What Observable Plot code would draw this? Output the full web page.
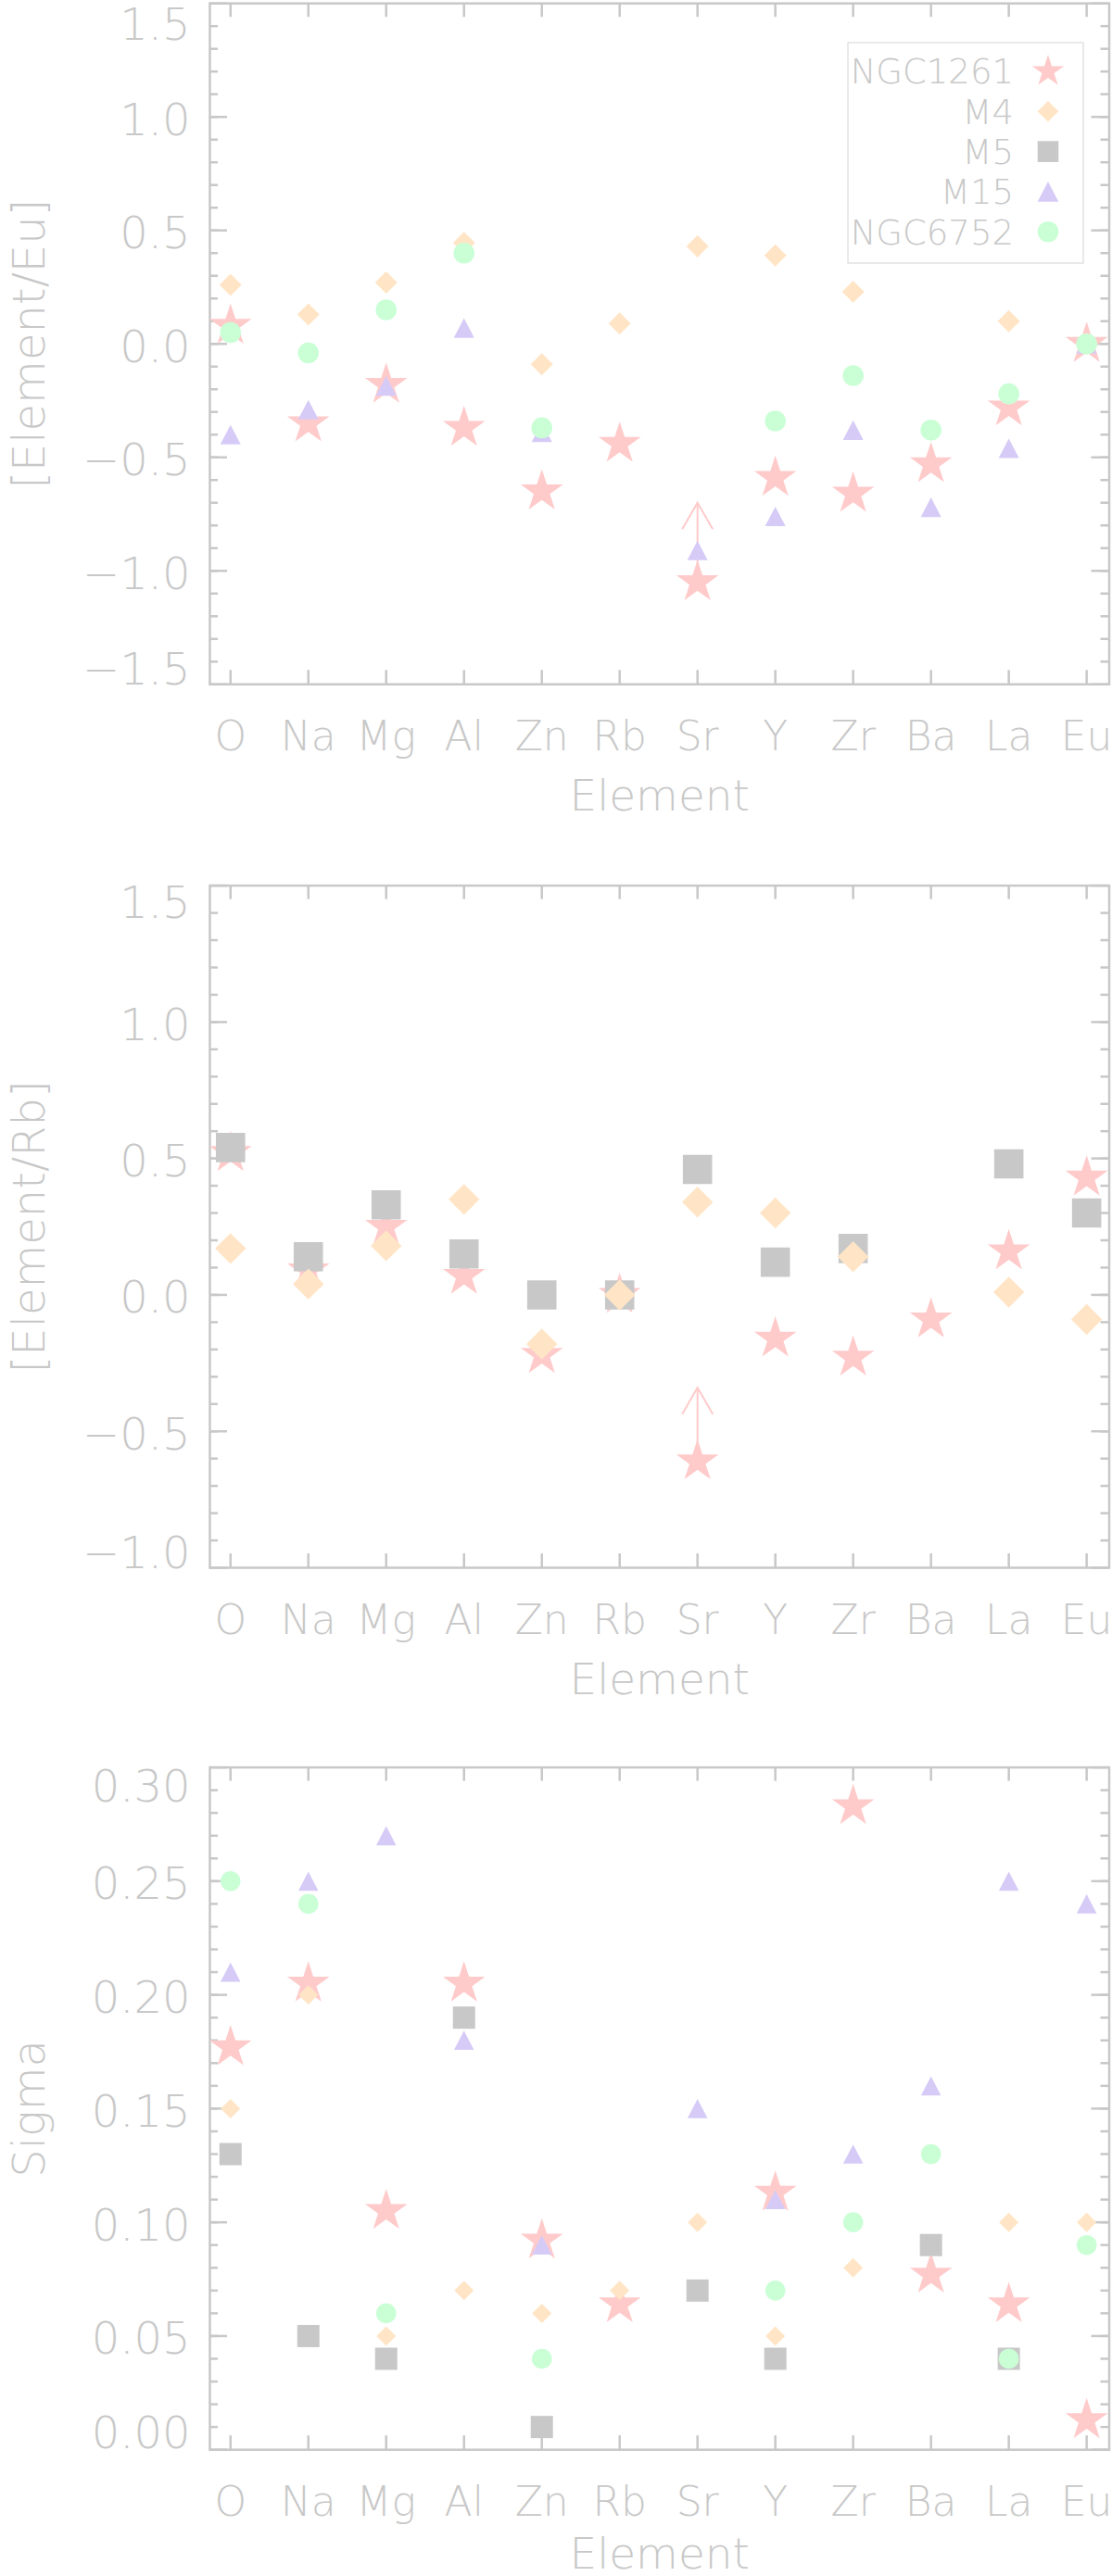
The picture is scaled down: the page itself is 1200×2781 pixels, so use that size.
<!DOCTYPE html>
<html>
<head>
<meta charset="utf-8">
<script src="https://cdn.jsdelivr.net/npm/d3@7"></script>
<script src="https://cdn.jsdelivr.net/npm/@observablehq/plot@0.6"></script>
<style>
  html, body { margin: 0; padding: 0; background: #fff; }
  #wrap { position: relative; width: 1200px; height: 2781px; overflow: hidden; }
  .pan { position: absolute; left: 0; width: 1200px; }
  svg { display: block; }
</style>
</head>
<body>
<div id="wrap"></div>
<script>
// ---------------- data ----------------
const elements = ["O", "Na", "Mg", "Al", "Zn", "Rb", "Sr", "Y", "Zr", "Ba", "La", "Eu"];
const seriesNames = ["NGC1261", "M4", "M5", "M15", "NGC6752"];
const seriesColors = ["#ffcaca", "#ffe5c6", "#c8c8c8", "#d6cbf7", "#caffd6"];

// Panel 1: [Element/Eu]
const eu_NGC1261 = [0.08, -0.35, -0.18, -0.37, -0.65, -0.44, -1.05, -0.59, -0.66, -0.53, -0.28, 0.00];
const eu_M4      = [0.26, 0.13, 0.27, 0.445, -0.09, 0.09, 0.43, 0.39, 0.23, null, 0.10, 0.00];
const eu_M15     = [-0.40, -0.29, -0.185, 0.07, -0.39, null, -0.91, -0.76, -0.38, -0.72, -0.46, 0.00];
const eu_NGC6752 = [0.05, -0.04, 0.15, 0.40, -0.37, null, null, -0.34, -0.14, -0.38, -0.22, 0.00];
const eu_limit   = ["Sr", -1.05, -0.70];   // NGC1261 lower limit: element, value, arrow tip
const euTicks      = [1.5, 1.0, 0.5, 0.0, -0.5, -1.0, -1.5];
const euTickLabels = ["1.5", "1.0", "0.5", "0.0", "\u22120.5", "\u22121.0", "\u22121.5"];

// Panel 2: [Element/Rb]
const rb_NGC1261 = [0.52, 0.09, 0.25, 0.07, -0.22, 0.00, -0.61, -0.16, -0.23, -0.09, 0.16, 0.43];
const rb_M5      = [0.54, 0.14, 0.33, 0.15, 0.00, 0.00, 0.46, 0.12, 0.17, null, 0.48, 0.30];
const rb_M4      = [0.17, 0.04, 0.18, 0.35, -0.18, 0.00, 0.34, 0.30, 0.14, null, 0.01, -0.09];
const rb_limit   = ["Sr", -0.61, -0.34];
const rbTicks      = [1.5, 1.0, 0.5, 0.0, -0.5, -1.0];
const rbTickLabels = ["1.5", "1.0", "0.5", "0.0", "\u22120.5", "\u22121.0"];

// Panel 3: Sigma
const sig_NGC1261 = [0.177, 0.205, 0.105, 0.205, 0.092, 0.064, null, 0.113, 0.283, 0.077, 0.064, 0.013];
const sig_M5      = [0.13, 0.05, 0.04, 0.19, 0.01, null, 0.07, 0.04, null, 0.09, 0.04, null];
const sig_M4      = [0.15, 0.20, 0.05, 0.07, 0.06, 0.07, 0.10, 0.05, 0.08, null, 0.10, 0.10];
const sig_M15     = [0.21, 0.25, 0.27, 0.18, 0.09, null, 0.15, 0.11, 0.13, 0.16, 0.25, 0.24];
const sig_NGC6752 = [0.25, 0.24, 0.06, null, 0.04, null, null, 0.07, 0.10, 0.13, 0.04, 0.09];
const sigTicks      = [0.30, 0.25, 0.20, 0.15, 0.10, 0.05, 0.00];
const sigTickLabels = ["0.30", "0.25", "0.20", "0.15", "0.10", "0.05", "0.00"];

// ---------------- styling ----------------
const GRAY = "#c8c8c8";
const FONT = "'DejaVu Sans', sans-serif";
const FW = 200;

// marker shapes (size = pi r^2, r = half-size in px)
const half = (size) => Math.sqrt(size / Math.PI);
const shapes = {
  star: { draw(c, s) { const R = half(s), r = R * 0.382; for (let k = 0; k < 10; k++) { const a = -Math.PI / 2 + k * Math.PI / 5, q = k % 2 ? r : R; const px = q * Math.cos(a), py = q * Math.sin(a); if (k) c.lineTo(px, py); else c.moveTo(px, py); } c.closePath(); } },
  diamond: { draw(c, s) { const h = half(s); c.moveTo(0, -h); c.lineTo(h, 0); c.lineTo(0, h); c.lineTo(-h, 0); c.closePath(); } },
  square: { draw(c, s) { const h = half(s); c.moveTo(-h, -h); c.lineTo(h, -h); c.lineTo(h, h); c.lineTo(-h, h); c.closePath(); } },
  triangle: { draw(c, s) { const h = half(s), v = h * 0.96; c.moveTo(0, -v); c.lineTo(h, v); c.lineTo(-h, v); c.closePath(); } },
  circle: { draw(c, s) { const h = half(s); c.moveTo(h, 0); c.arc(0, 0, h, 0, 2 * Math.PI); c.closePath(); } },
  chevron: { draw(c, s) { const L = half(s), a = Math.PI / 6; c.moveTo(-L * Math.sin(a), L * Math.cos(a)); c.lineTo(0, 0); c.lineTo(L * Math.sin(a), L * Math.cos(a)); } }
};
const seriesShape = { NGC1261: "star", M4: "diamond", M5: "square", M15: "triangle", NGC6752: "circle" };
const colorOf = (name) => seriesColors[seriesNames.indexOf(name)];

const rows = (vals) => vals.map((v, i) => ({ x: i, y: v })).filter((d) => d.y != null);

const LEFT = 226, RIGHT = 1196.5, XDOM = [-0.265, 11.29];

function panel(cfg) {
  const plotW = RIGHT - LEFT;
  const marks = [];
  // ticks (inward)
  const tk = { stroke: GRAY, strokeWidth: 2.5 };
  marks.push(Plot.tickY(cfg.ticks, { y: (d) => d, ...tk, insetRight: plotW - 19 }));
  marks.push(Plot.tickY(cfg.ticks, { y: (d) => d, ...tk, insetLeft: plotW - 19 }));
  marks.push(Plot.tickY(cfg.minor, { y: (d) => d, ...tk, insetRight: plotW - 9 }));
  marks.push(Plot.tickY(cfg.minor, { y: (d) => d, ...tk, insetLeft: plotW - 9 }));
  const idx = elements.map((e, i) => i);
  marks.push(Plot.tickX(idx, { x: (d) => d, ...tk, insetTop: cfg.plotH - 15 }));
  marks.push(Plot.tickX(idx, { x: (d) => d, ...tk, insetBottom: cfg.plotH - 15 }));
  marks.push(Plot.frame({ stroke: GRAY, strokeWidth: 2.5 }));
  // y tick labels
  const lab = cfg.ticks.map((t, i) => ({ t, s: cfg.labels[i] }));
  const tl = { y: "t", text: "s", frameAnchor: "left", textAnchor: "end", lineAnchor: "middle", dx: -21, fontSize: 48, fill: GRAY, fontWeight: FW };
  marks.push(Plot.text(lab.slice(0, 1), { ...tl, dy: cfg.dyTop }));
  marks.push(Plot.text(lab.slice(1, -1), { ...tl, dy: 4 }));
  marks.push(Plot.text(lab.slice(-1), { ...tl, dy: cfg.dyBottom }));
  // x tick labels
  marks.push(Plot.text(elements, { x: (d, i) => i, text: (d) => d, frameAnchor: "bottom", lineAnchor: "middle", textAnchor: "middle", dy: 57, fontSize: 44, fill: GRAY, fontWeight: FW }));
  // axis titles
  marks.push(Plot.text(["Element"], { text: (d) => d, frameAnchor: "bottom", lineAnchor: "middle", textAnchor: "middle", dy: cfg.titleDy, fontSize: 47, fill: GRAY, fontWeight: FW }));
  marks.push(Plot.text([cfg.title], { text: (d) => d, frameAnchor: "left", textAnchor: "middle", lineAnchor: "middle", dx: -194, rotate: -90, fontSize: 48, fill: GRAY, fontWeight: FW }));
  // data
  for (const [name, vals, r] of cfg.series) {
    if (name === "NGC1261" && cfg.limit) {
      const lim = [{ x: elements.indexOf(cfg.limit[0]), y1: cfg.limit[1], y2: cfg.limit[2] }];
      marks.push(Plot.link(lim, { x1: "x", x2: "x", y1: "y1", y2: "y2", stroke: colorOf(name), strokeWidth: 2 }));
      marks.push(Plot.dot(lim, { x: "x", y: "y2", symbol: shapes.chevron, r: 33, fill: "none", stroke: colorOf(name), strokeWidth: 2 }));
    }
    marks.push(Plot.dot(rows(vals), { x: "x", y: "y", symbol: shapes[seriesShape[name]], r, fill: colorOf(name), stroke: "none" }));
  }
  return Plot.plot({
    width: 1200,
    height: cfg.svgH,
    marginLeft: LEFT,
    marginRight: 1200 - RIGHT,
    marginTop: cfg.top,
    marginBottom: cfg.svgH - cfg.top - cfg.plotH,
    x: { type: "linear", domain: XDOM, axis: null },
    y: { type: "linear", domain: cfg.domain, axis: null },
    style: { fontFamily: FONT, background: "white", overflow: "visible" },
    marks
  });
}

const wrap = document.getElementById("wrap");
function place(node, top) { const d = document.createElement("div"); d.className = "pan"; d.style.top = top + "px"; d.appendChild(node); wrap.appendChild(d); return d; }

const p1 = panel({
  domain: [-1.5, 1.5], ticks: euTicks, labels: euTickLabels, minor: d3.range(-14, 15).map((k) => k / 10),
  dyTop: 24, dyBottom: -15, titleDy: 121, title: "[Element/Eu]", top: 3.2, plotH: 735.1, svgH: 952,
  limit: eu_limit,
  series: [["NGC1261", eu_NGC1261, 24], ["M4", eu_M4, 12], ["M15", eu_M15, 11], ["NGC6752", eu_NGC6752, 11.3]]
});
const p2 = panel({
  domain: [-1.0, 1.5], ticks: rbTicks, labels: rbTickLabels, minor: d3.range(-9, 15).map((k) => k / 10),
  dyTop: 20, dyBottom: -15, titleDy: 121, title: "[Element/Rb]", top: 3.6, plotH: 736.4, svgH: 952,
  limit: rb_limit,
  series: [["NGC1261", rb_NGC1261, 24], ["M5", rb_M5, 15.8], ["M4", rb_M4, 16.7]]
});
const p3 = panel({
  domain: [0, 0.30], ticks: sigTicks, labels: sigTickLabels, minor: d3.range(1, 30).map((k) => k / 100),
  dyTop: 22, dyBottom: -17, titleDy: 113, title: "Sigma", top: 3.6, plotH: 736.6, svgH: 877,
  limit: null,
  series: [["NGC1261", sig_NGC1261, 24], ["M5", sig_M5, 12], ["M4", sig_M4, 10.5], ["M15", sig_M15, 10.8], ["NGC6752", sig_NGC6752, 10.8]]
});
place(p1, 0);
place(p2, 952);
place(p3, 1904);

// legend (panel 1)
const legendSizes = { NGC1261: 18, M4: 11.3, M5: 11.3, M15: 11.3, NGC6752: 11.3 };
const leg = d3.create("svg").attr("width", 256).attr("height", 240)
  .style("position", "absolute").style("left", "914px").style("top", "45px");
leg.append("rect").attr("x", 1).attr("y", 1).attr("width", 254).attr("height", 238)
  .attr("fill", "white").attr("stroke", "#e2e2e2").attr("stroke-width", 1.5);
seriesNames.forEach((name, i) => {
  const cy = 32 + i * 43.3;
  leg.append("text").attr("x", 180).attr("y", cy).attr("dy", "0.36em").attr("text-anchor", "end")
    .attr("font-family", FONT).attr("font-weight", FW).attr("font-size", 37).attr("fill", GRAY).text(name);
  const p = d3.path();
  const r = legendSizes[name];
  shapes[seriesShape[name]].draw(p, Math.PI * r * r);
  leg.append("path").attr("transform", `translate(217,${cy})`).attr("d", p.toString()).attr("fill", colorOf(name));
});
wrap.appendChild(leg.node());
</script>
</body>
</html>
